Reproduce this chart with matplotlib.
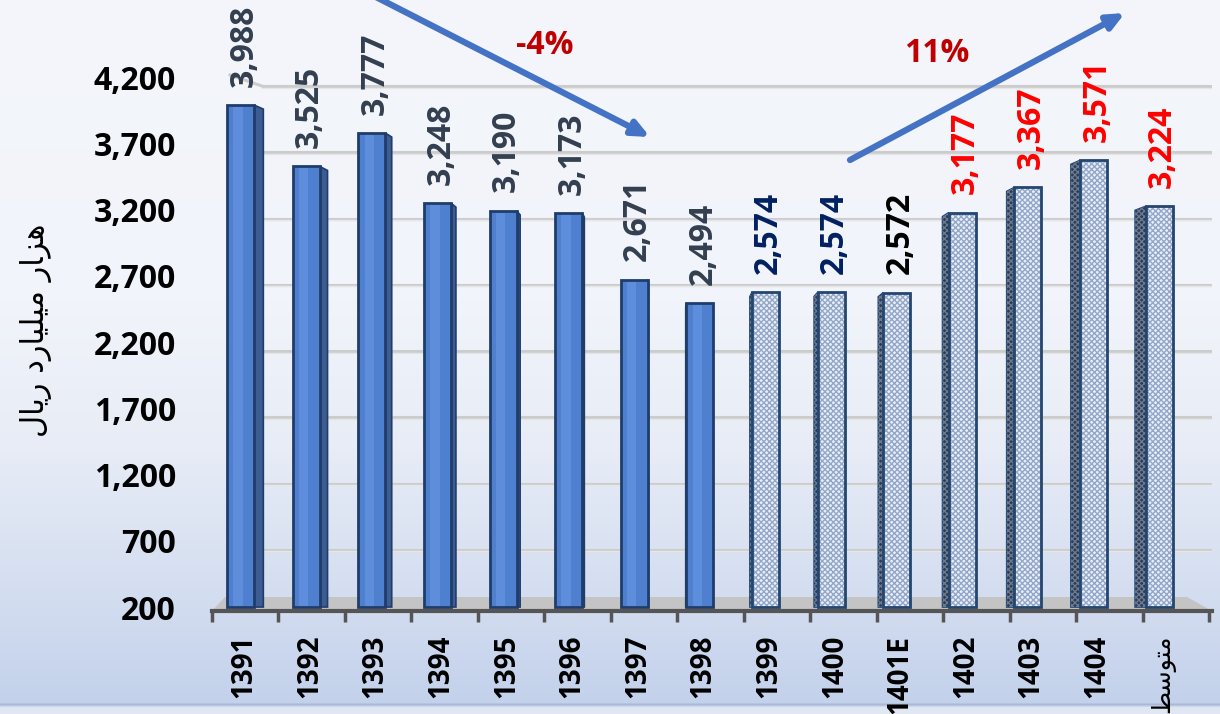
import numpy as np
import matplotlib
matplotlib.use('Agg')
import matplotlib.pyplot as plt
from matplotlib.patches import Polygon
from matplotlib.colors import to_rgb

# ---------------- data ----------------
categories = ['1391', '1392', '1393', '1394', '1395', '1396', '1397', '1398',
              '1399', '1400', '1401E', '1402', '1403', '1404',
              '\uFEC2\uFEB3\uFEEE\uFE98\uFEE3']  # متوسط (shaped, visual order)
values = [3988, 3525, 3777, 3248, 3190, 3173, 2671, 2494,
          2574, 2574, 2572, 3177, 3367, 3571, 3224]
label_colors = ['#333f50'] * 8 + ['#002060', '#002060', '#000000'] + ['#ff0000'] * 4
hatched = [False] * 8 + [True] * 7
yticks = [200, 700, 1200, 1700, 2200, 2700, 3200, 3700, 4200]
# هزار میلیارد ریال (shaped, visual order)
ylabel_text = ('\uFEDD\uFE8E\uFEF3\uFEAD' + ' ' +
               '\uFEA9\uFEAD\uFE8E\uFEF4\uFEE0\uFEF4\uFEE3' + ' ' +
               '\uFEAD\uFE8E\uFEB0\uFEEB')
trend_labels = ['-4%', '11%']

# ---------------- figure ----------------
W, H = 1220, 714
fig = plt.figure(figsize=(W / 100, H / 100), dpi=100)

# background gradient
bg = fig.add_axes([0, 0, 1, 1], zorder=-5)
stops = [(0, '#f4f6fb'), (300, '#f1f4fa'), (450, '#e7ecf6'), (600, '#d3ddf0'),
         (702, '#c3d1eb'), (704, '#a8b8d6'), (707, '#dfe6f3'), (714, '#e3e9f4')]
ys = np.arange(H)
cols = np.zeros((H, 1, 3))
sy = [s[0] for s in stops]
for c in range(3):
    cv = [to_rgb(s[1])[c] for s in stops]
    cols[:, 0, c] = np.interp(ys, sy, cv)
bg.imshow(cols, aspect='auto', extent=[0, 1, 0, 1], interpolation='bilinear')
bg.axis('off')

# main axes geometry (pixels)
px_x = 65.6          # pixels per category
px_y = 0.1325        # pixels per value unit
left_px, right_px = 212, 1212
base_px, top_px = 611, 40
y0 = 170
x_center0 = 244
xmin = (left_px - x_center0) / px_x
xmax = (right_px - x_center0) / px_x
ymax = y0 + (base_px - top_px) / px_y

ax = fig.add_axes([left_px / W, (H - base_px) / H, (right_px - left_px) / W,
                   (base_px - top_px) / H])
ax.set_xlim(xmin, xmax)
ax.set_ylim(y0, ymax)
ax.patch.set_alpha(0)

# gridlines (drawn on the 3-D back wall, a few pixels below the label level)
grid_drop = 9 / px_y
for t in yticks[1:]:
    ax.plot([xmin + 50 / px_x, xmax], [t - grid_drop] * 2, color='#cccccc',
            lw=2.2, zorder=0, solid_capstyle='butt')
    ax.plot([xmin + 50 / px_x, xmax], [t - grid_drop - 1.5 / px_y] * 2,
            color='#e6e6e6', lw=1.0, zorder=0)
    ax.plot([xmin + 18 / px_x, xmin + 50 / px_x], [t + 2 / px_y, t - grid_drop],
            color='#cccccc', lw=2.2, zorder=0)

# floor
fpx = 1 / px_x
floor_top = y0 + 14 / px_y
floor = Polygon([(xmin, y0), (xmin + 13 * fpx, floor_top),
                 (xmax - 25 * fpx, floor_top), (xmax, y0)],
                closed=True, facecolor='#c4c4c4', edgecolor='none', zorder=1)
ax.add_patch(floor)

# bars
n = len(values)
bw = 27 / px_x
off = -0.05
bar_bottom = 200
for i, v in enumerate(values):
    xc = i + off
    xl, xr = xc - bw / 2, xc + bw / 2
    d = 1.4 * (6.5 - i) / px_x        # side depth (data units)
    dy = 4 / px_y
    if hatched[i]:
        front_fc, hatch_c, side_fc, side_h, ec = '#e9eef7', '#93a7c9', '#2e3b4f', '#6a7a94', '#24466f'
    else:
        front_fc, hatch_c, side_fc, side_h, ec = '#4f80cf', None, '#3d5d92', None, '#1f3d6b'
    # side face
    if d > 0:
        side = [(xr, bar_bottom), (xr, v), (xr + d, v - dy), (xr + d, bar_bottom)]
    else:
        side = [(xl, bar_bottom), (xl, v), (xl + d, v - dy), (xl + d, bar_bottom)]
    if abs(d) > 0.5 / px_x:
        ax.add_patch(Polygon(side, closed=True, facecolor=side_fc, edgecolor=ec,
                             lw=1.2, zorder=3))
        if side_h:
            ax.add_patch(Polygon(side, closed=True, facecolor='none', edgecolor=side_h,
                                 hatch='xxxxxx', lw=0, zorder=3.1))
    # front face
    ax.bar(xc, v - bar_bottom, bottom=bar_bottom, width=bw, color=front_fc,
           edgecolor='none', zorder=4)
    if hatch_c:
        ax.bar(xc, v - bar_bottom, bottom=bar_bottom, width=bw, color='none',
               edgecolor=hatch_c, hatch='xxxxxx', lw=0, zorder=4.1)
    else:
        ax.bar(xc - bw * 0.1, v - bar_bottom, bottom=bar_bottom, width=bw * 0.35,
               color='#5d8ddb', edgecolor='none', zorder=4.1)
    ax.bar(xc, v - bar_bottom, bottom=bar_bottom, width=bw, color='none',
           edgecolor=ec, lw=2.0, zorder=4.2)
    # value label
    ax.text(i, v + 140, f'{v:,}', rotation=90, ha='center', va='bottom',
            fontsize=23, fontweight='bold', family='Open Sans',
            color=label_colors[i], zorder=6, clip_on=False)

# axes styling
for s in ['top', 'right', 'left']:
    ax.spines[s].set_visible(False)
ax.spines['bottom'].set_color('#555555')
ax.spines['bottom'].set_linewidth(3)
ax.spines['bottom'].set_zorder(5)

ax.set_yticks(yticks)
ax.set_yticklabels([f'{t:,}' for t in yticks], fontsize=23, fontweight='bold',
                   family='Open Sans', color='#000000')
ax.tick_params(axis='y', length=0, pad=26)

# tick marks at category boundaries (slight perspective scaling)
bounds = [-0.488 + 1.0137 * k for k in range(n + 1)]
ax.set_xticks(bounds)
ax.set_xticklabels([])
ax.tick_params(axis='x', which='major', length=8, width=2.5, color='#555555',
               direction='out')
ax.set_xticks(range(n), minor=True)
ax.set_xticklabels(categories, minor=True, rotation=90, va='top', ha='center')
ax.tick_params(axis='x', which='minor', length=0, pad=17)
for k, lab in enumerate(ax.get_xticklabels(minor=True)):
    if k < n - 1:
        lab.set_fontfamily('Open Sans')
        lab.set_fontweight('bold')
        lab.set_fontsize(20)
    else:
        lab.set_fontfamily('DejaVu Sans')
        lab.set_fontsize(18)
    lab.set_color('#000000')

# y label
fig.text(36 / W, 1 - 330 / H, ylabel_text, rotation=90, ha='center', va='center',
         fontsize=22, family='DejaVu Sans', color='#000000')

# trend arrows
def fp(x, y):
    return (x, H - y)

arrow_style = dict(arrowstyle='-|>,head_length=1.0,head_width=0.45',
                   color='#4472c4', lw=4.5, shrinkA=0, shrinkB=0)
ax.annotate('', xy=fp(650, 137), xytext=fp(372, -5), xycoords='figure pixels',
            textcoords='figure pixels', arrowprops=arrow_style,
            annotation_clip=False, zorder=7)
ax.annotate('', xy=fp(1125, 13), xytext=fp(850, 160), xycoords='figure pixels',
            textcoords='figure pixels', arrowprops=arrow_style,
            annotation_clip=False, zorder=7)
fig.text(545 / W, 1 - 45 / H, trend_labels[0], ha='center', va='center',
         fontsize=23, fontweight='bold', family='Open Sans', color='#c00000')
fig.text(937 / W, 1 - 53 / H, trend_labels[1], ha='center', va='center',
         fontsize=23, fontweight='bold', family='Open Sans', color='#c00000')

fig.savefig('out.png', dpi=100)
